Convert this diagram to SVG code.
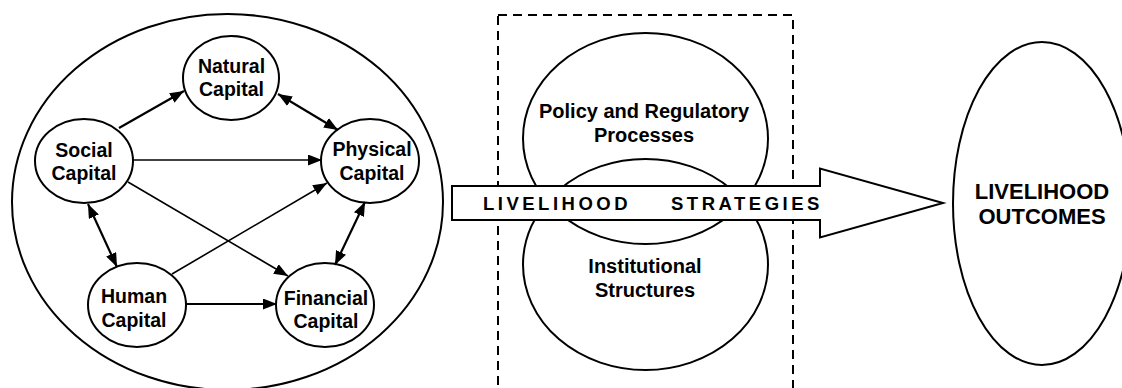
<svg xmlns="http://www.w3.org/2000/svg" width="1122" height="388" viewBox="0 0 1122 388">
<style>
.e{fill:none;stroke:#000;stroke-width:2}
.t{font-family:"Liberation Sans",Arial,sans-serif;font-weight:bold;font-size:19.5px;text-anchor:middle;fill:#000}
.c{stroke:#000;fill:none}
.thk{stroke-width:2.2}
.thn{stroke-width:1.6}
</style>
<defs>
<marker id="ah" markerUnits="userSpaceOnUse" markerWidth="15" markerHeight="11" refX="14" refY="5.5" orient="auto-start-reverse">
<path d="M0,0 L14,5.5 L0,11 z" fill="#000"/>
</marker>
</defs>
<rect width="1122" height="388" fill="#fff"/>
<g id="assets">
<ellipse class="e" cx="227.5" cy="202" rx="215.5" ry="188"/>
</g>
<g id="natural"><ellipse class="e" cx="231" cy="78" rx="48" ry="42"/><text class="t" x="231.5" y="73">Natural</text><text class="t" x="231.5" y="96">Capital</text></g>
<g id="social"><ellipse class="e" cx="84" cy="161" rx="49" ry="42"/><text class="t" x="84" y="157">Social</text><text class="t" x="84" y="180">Capital</text></g>
<g id="physical"><ellipse class="e" cx="370" cy="161" rx="49" ry="42"/><text class="t" x="372" y="156">Physical</text><text class="t" x="372" y="180">Capital</text></g>
<g id="human"><ellipse class="e" cx="137" cy="305" rx="49" ry="42"/><text class="t" x="134" y="303">Human</text><text class="t" x="134" y="327">Capital</text></g>
<g id="financial"><ellipse class="e" cx="325" cy="305" rx="49" ry="42"/><text class="t" x="326" y="305">Financial</text><text class="t" x="326" y="328">Capital</text></g>
<g id="connectors">
<line class="c thk" x1="119" y1="128" x2="184" y2="91" marker-end="url(#ah)"/>
<line class="c thk" x1="278" y1="94" x2="338" y2="130" marker-start="url(#ah)" marker-end="url(#ah)"/>
<line class="c thn" x1="133" y1="160" x2="322" y2="160" marker-end="url(#ah)"/>
<line class="c thn" x1="128" y1="182" x2="288" y2="276" marker-end="url(#ah)"/>
<line class="c thn" x1="172" y1="274" x2="327" y2="183" marker-end="url(#ah)"/>
<line class="c thk" x1="88" y1="204" x2="117" y2="267" marker-start="url(#ah)" marker-end="url(#ah)"/>
<line class="c thk" x1="365" y1="202" x2="335" y2="265" marker-start="url(#ah)" marker-end="url(#ah)"/>
<line class="c thk" x1="186" y1="304" x2="277" y2="304" marker-end="url(#ah)"/>
</g>
<g id="policy"><ellipse class="e" cx="645.5" cy="138.5" rx="122.5" ry="105.5"/><text class="t" style="font-size:20px" x="644" y="118">Policy and Regulatory</text><text class="t" style="font-size:20px" x="644" y="142">Processes</text></g>
<g id="institutions"><ellipse class="e" cx="645.5" cy="264.5" rx="122.5" ry="105.5"/><text class="t" style="font-size:20px" x="645" y="273">Institutional</text><text class="t" style="font-size:20px" x="645" y="297">Structures</text></g>
<g id="transforming">
<rect x="498" y="15" width="295" height="400" fill="none" stroke="#000" stroke-width="2" stroke-dasharray="9,6"/>
</g>
<g id="strategies">
<path d="M452,186 H820 V168.5 L943,203 L820,237.5 V220 H452 Z" fill="#fff" stroke="#000" stroke-width="2" stroke-linejoin="miter"/>
<text class="t" style="font-size:18.5px;text-anchor:start;letter-spacing:3.5px" x="483" y="210">LIVELIHOOD</text>
<text class="t" style="font-size:18.5px;text-anchor:start;letter-spacing:3.5px" x="671" y="210">STRATEGIES</text>
</g>
<g id="outcomes"><ellipse class="e" cx="1042" cy="203.5" rx="89" ry="161.5"/><text class="t" style="font-size:22px" x="1042" y="199">LIVELIHOOD</text><text class="t" style="font-size:22px" x="1042" y="224">OUTCOMES</text></g>
</svg>
